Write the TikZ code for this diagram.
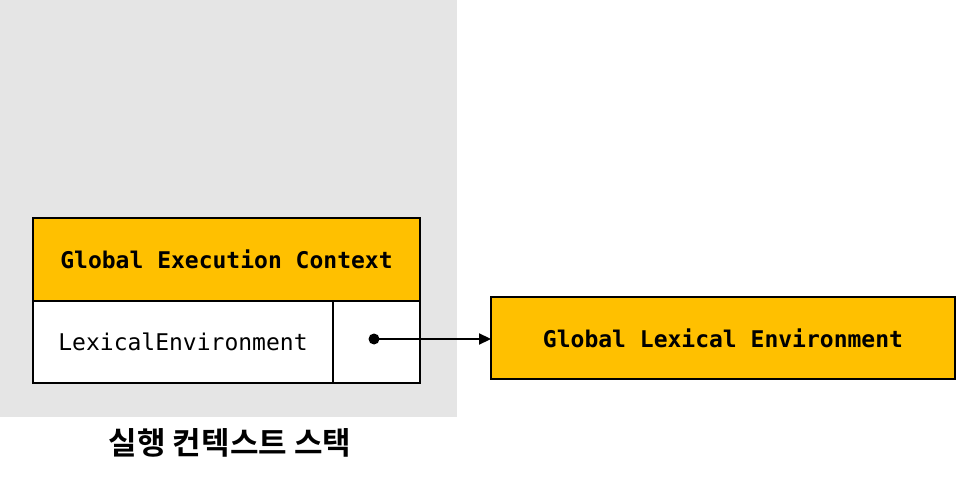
\documentclass[tikz,border=0pt]{standalone}
\usepackage{fontspec}
\setmonofont{DejaVu Sans Mono}
\newfontfamily\krfont{Noto Sans CJK KR Bold}
\usetikzlibrary{arrows.meta}
\definecolor{ybox}{HTML}{FFC000}
\definecolor{bgray}{HTML}{E5E5E5}
\tikzset{
  cell/.style={draw=black, line width=2pt, inner sep=0pt, outer sep=0pt},
  monob/.style={font=\fontsize{23}{27}\selectfont\ttfamily\bfseries},
  monor/.style={font=\fontsize{23}{27}\selectfont\ttfamily},
}
\begin{document}
\begin{tikzpicture}[x=1pt,y=-1pt]
\useasboundingbox (0,0) rectangle (956,481);
\fill[bgray] (0,0) rectangle (457,417);
\node[cell, fill=ybox, minimum width=387pt, minimum height=83pt, anchor=north west] (gec) at (33,218) {};
\node[monob] (gect) at (gec.center) {Global Execution Context};
\node[cell, fill=white, minimum width=300pt, minimum height=82pt, anchor=north west] (lex) at (33,301) {};
\node[monor] (lext) at (lex.center) {LexicalEnvironment};
\node[cell, fill=white, minimum width=87pt, minimum height=82pt, anchor=north west] (ptr) at (333,301) {};
\node[cell, fill=ybox, minimum width=464pt, minimum height=82pt, anchor=north west] (gle) at (491,297) {};
\node[monob] (glet) at (gle.center) {Global Lexical Environment};
\coordinate (dot) at (374,339);
\fill (dot) circle (5.5pt);
\draw[line width=2.2pt, -{Triangle[length=12pt,width=11pt]}] (dot) -- (dot -| gle.west);
\node[font=\fontsize{31}{35}\selectfont\krfont] (lbl) at (230,443) {실행 컨텍스트 스택};
\end{tikzpicture}
\end{document}
